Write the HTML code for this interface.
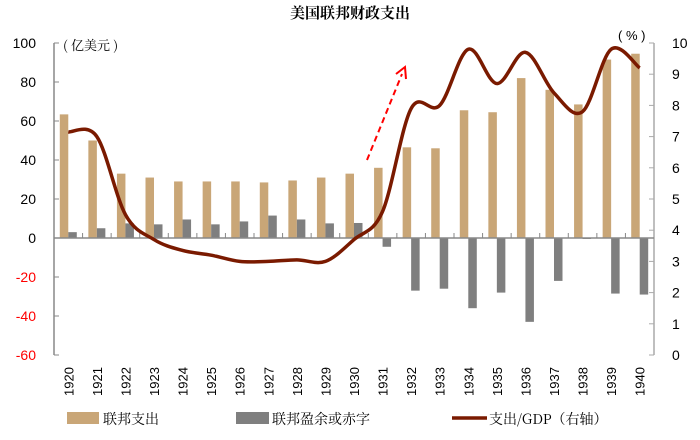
<!DOCTYPE html>
<html><head><meta charset="utf-8"><style>
body{margin:0;background:#fff;}
svg text{font-family:"Liberation Sans","Noto Sans CJK SC",sans-serif;}
.cjk{font-family:"Noto Serif CJK SC","Noto Sans CJK SC",serif;}
</style></head><body>
<svg id="chart" width="700" height="435" xmlns="http://www.w3.org/2000/svg">
<text class="cjk" x="350" y="18" text-anchor="middle" font-size="15" font-weight="bold">美国联邦财政支出</text>
<g id="g"></g>
</svg>
<script>
const years=['1920','1921','1922','1923','1924','1925','1926','1927','1928','1929','1930','1931','1932','1933','1934','1935','1936','1937','1938','1939','1940'];
const spending=[63.4,50,33,31,29,29,29,28.5,29.5,31,33,36,46.5,46,65.5,64.5,82,76,68.5,91.5,94.5];
const surplus=[3,5,7.5,7,9.5,7,8.5,11.5,9.5,7.5,7.7,-4.5,-27,-26,-36,-28,-43,-22,-0.5,-28.5,-29];
const gdpRatio=[7.15,7.0,4.5,3.7,3.35,3.2,3.0,3.0,3.05,3.0,3.7,4.6,7.9,8.0,9.8,8.7,9.7,8.4,7.8,9.8,9.2];
const leftTicks=[100,80,60,40,20,0,-20,-40,-60];
const rightTicks=[10,9,8,7,6,5,4,3,2,1,0];
const NS='http://www.w3.org/2000/svg';
const g=document.getElementById('g');
const X0=54,X1=654,YT=43,YB=355;
const yL=v=>YB-(v+60)/160*(YB-YT);
const yR=v=>YB-v/10*(YB-YT);
const step=(X1-X0)/years.length;
const xc=i=>X0+step*(i+0.5);
function el(t,a,txt){const e=document.createElementNS(NS,t);for(const k in a)e.setAttribute(k,a[k]);if(txt!==undefined)e.textContent=txt;g.appendChild(e);return e;}
// axes
let e;
e=el('line',{x1:X0,y1:YT,x2:X0,y2:YB,stroke:'#888','stroke-width':1.5});

e=el('line',{x1:X1,y1:YT,x2:X1,y2:YB,stroke:'#aaa','stroke-width':1.5});

leftTicks.forEach(v=>{
  el('line',{x1:X0,y1:yL(v),x2:X0+5,y2:yL(v),stroke:'#888'});
  e=el('text',{x:36,y:yL(v)+5,'text-anchor':'end','font-size':14,fill:v<0?'#ff0000':'#000'},String(v));
  
});
rightTicks.forEach(v=>{
  el('line',{x1:X1-5,y1:yR(v),x2:X1,y2:yR(v),stroke:'#aaa'});
  e=el('text',{x:672,y:yR(v)+5,'text-anchor':'start','font-size':14},String(v));
  
});
e=el('text',{x:63,y:50,'font-size':13,class:'cjk'},'( 亿美元 )');

e=el('text',{x:618,y:40,'font-size':13},'( % )');

// bars
const bw=8.5;
years.forEach((y,i)=>{
  const c=xc(i);
  let v=spending[i];
  e=el('rect',{x:c-bw,y:Math.min(yL(v),yL(0)),width:bw,height:Math.abs(yL(v)-yL(0)),fill:'#c9a677'});
  
  v=surplus[i];
  e=el('rect',{x:c,y:Math.min(yL(v),yL(0)),width:bw,height:Math.abs(yL(v)-yL(0)),fill:'#7f7f7f'});
  
  e=el('text',{transform:`translate(${c+5},396) rotate(-90)`,'font-size':13},y);
  
});
e=el('line',{x1:X0,y1:yL(0),x2:X1,y2:yL(0),stroke:'#888','stroke-width':1.5});

for(let i=1;i<years.length;i++)el('line',{x1:X0+step*i,y1:yL(0),x2:X0+step*i,y2:yL(0)-5,stroke:'#888'});
// smooth line
const pts=gdpRatio.map((v,i)=>[xc(i),yR(v)]);
let d=`M${pts[0][0]},${pts[0][1]}`;
for(let i=0;i<pts.length-1;i++){
  const p0=pts[Math.max(0,i-1)],p1=pts[i],p2=pts[i+1],p3=pts[Math.min(pts.length-1,i+2)];
  const t=6;
  d+=` C${p1[0]+(p2[0]-p0[0])/t},${p1[1]+(p2[1]-p0[1])/t} ${p2[0]-(p3[0]-p1[0])/t},${p2[1]-(p3[1]-p1[1])/t} ${p2[0]},${p2[1]}`;
}
e=el('path',{d:d,fill:'none',stroke:'#7a1a00','stroke-width':3.5});

// arrow
e=el('line',{x1:367,y1:160,x2:402,y2:74,stroke:'#ff0000','stroke-width':2,'stroke-dasharray':'6,4'});

el('polyline',{points:'396,74 405,67 406,79',fill:'none',stroke:'#ff0000','stroke-width':2});
// legend
e=el('rect',{x:67,y:412,width:32,height:12,fill:'#c9a677'});

e=el('text',{x:103,y:424,'font-size':14,class:'cjk'},'联邦支出');

e=el('rect',{x:236,y:412,width:33,height:12,fill:'#7f7f7f'});

e=el('text',{x:272,y:424,'font-size':14,class:'cjk'},'联邦盈余或赤字');

e=el('line',{x1:452,y1:418,x2:487,y2:418,stroke:'#7a1a00','stroke-width':3.5});

e=el('text',{x:489,y:424,'font-size':14,class:'cjk'},'支出/GDP（右轴）');

</script>
</body></html>
